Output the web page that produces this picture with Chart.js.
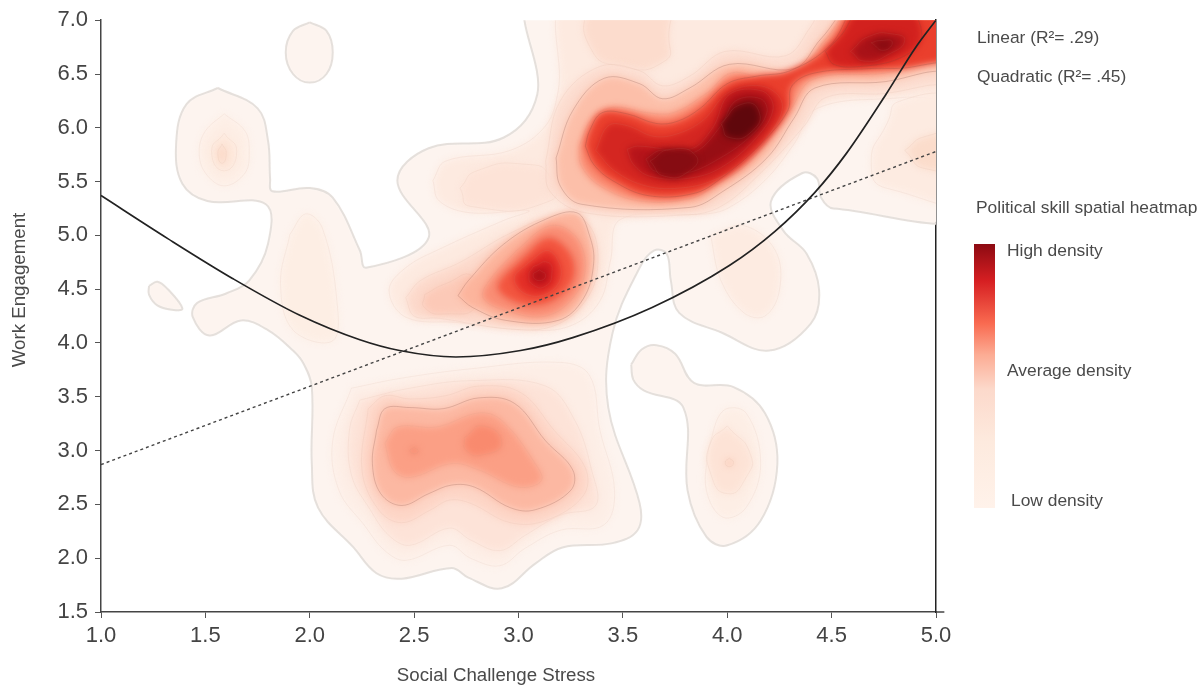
<!DOCTYPE html>
<html>
<head>
<meta charset="utf-8">
<title>Political skill spatial heatmap</title>
<script src="https://cdn.jsdelivr.net/npm/chart.js@4"></script>
<style>
  html, body { margin: 0; background: #fff; }
  canvas { display: block; }
</style>
</head>
<body>
<canvas id="densityChart" width="1204" height="686"></canvas>
<script>
// axis ticks
const xTicks = [1.0, 1.5, 2.0, 2.5, 3.0, 3.5, 4.0, 4.5, 5.0];
const yTicks = [1.5, 2.0, 2.5, 3.0, 3.5, 4.0, 4.5, 5.0, 5.5, 6.0, 6.5, 7.0];

// fit lines
const linearX = [1.0, 5.0];
const linearY = [2.87, 5.78];
const quadraticX = [1.0, 1.32, 1.63, 1.95, 2.24, 2.43, 2.70, 3.01, 3.26, 3.64, 4.01, 4.23, 4.42, 4.57, 4.76, 4.90, 5.0];
const quadraticY = [5.37, 4.97, 4.60, 4.26, 4.03, 3.93, 3.87, 3.93, 4.05, 4.33, 4.72, 5.04, 5.40, 5.76, 6.31, 6.74, 7.0];
const axisStubX = [5.0, 5.04];
const axisStubY = [1.5, 1.5];

// density contours as [x, y] in axis units
const outerMain = [[1.56,6.37],[1.75,6.18],[1.80,5.88],[1.81,5.53],[1.82,5.41],[2.00,5.44],[2.11,5.35],[2.24,4.86],[2.27,4.70],[2.57,4.98],[2.42,5.51],[2.57,5.81],[2.93,5.91],[3.09,6.31],[3.08,7.2],[5.2,7.2],[5.2,5.25],[4.51,5.25],[4.45,5.35],[4.43,5.53],[4.36,5.58],[4.21,5.32],[4.27,5.04],[4.38,4.83],[4.44,4.49],[4.40,4.18],[4.20,3.93],[3.97,4.10],[3.77,4.28],[3.73,4.58],[3.71,4.83],[3.65,4.86],[3.58,4.70],[3.45,4.09],[3.43,3.40],[3.58,2.51],[3.57,2.26],[3.45,2.14],[3.21,2.10],[3.08,1.95],[2.92,1.72],[2.76,1.82],[2.68,1.91],[2.44,1.81],[2.32,1.86],[2.21,2.10],[2.04,2.47],[2.01,2.88],[2.01,3.59],[1.97,3.81],[1.92,3.93],[1.80,4.12],[1.67,4.21],[1.52,4.07],[1.44,4.24],[1.46,4.37],[1.60,4.46],[1.71,4.58],[1.80,4.92],[1.79,5.29],[1.51,5.32],[1.39,5.48],[1.36,5.85],[1.41,6.22]];
const outerTopOval = [[2.0,6.98],[2.08,6.9],[2.11,6.7],[2.08,6.5],[2.0,6.42],[1.92,6.5],[1.885,6.7],[1.92,6.9]];
const outerLens = [[1.23,4.53],[1.27,4.57],[1.32,4.5],[1.39,4.32],[1.34,4.31],[1.27,4.35],[1.23,4.45]];
const outerLobe = [[3.54,3.80],[3.59,3.94],[3.66,3.98],[3.75,3.90],[3.84,3.63],[4.03,3.59],[4.18,3.35],[4.24,2.88],[4.16,2.35],[4.00,2.12],[3.90,2.20],[3.81,2.63],[3.79,3.40],[3.60,3.56],[3.55,3.66]];

const leftBlobRing = [[1.59,6.13],[1.69,5.97],[1.71,5.78],[1.69,5.58],[1.59,5.46],[1.50,5.58],[1.47,5.78],[1.50,5.97]];
const leftBlobInner = [[1.59,5.95],[1.65,5.78],[1.59,5.6],[1.53,5.78]];
const leftBlobPeak = [[1.58,5.85],[1.60,5.76],[1.58,5.67],[1.56,5.76]];
const pillar = [[1.905,5.01],[1.98,5.20],[2.06,5.07],[2.13,4.39],[2.11,4.02],[1.92,4.12],[1.86,4.55]];
const rightLobe = [[3.92,5.0],[4.08,5.09],[4.23,4.86],[4.25,4.49],[4.18,4.25],[4.08,4.28],[3.97,4.58]];
const lobeRing = [[3.91,3.03],[3.98,3.37],[4.09,3.35],[4.16,2.88],[4.09,2.47],[3.98,2.38],[3.90,2.63]];
const lobeInner = [[4.00,3.23],[4.11,2.97],[4.09,2.75],[4.00,2.60],[3.92,2.79],[3.92,3.07]];
const lobePeak = [[4.01,2.93],[4.03,2.89],[4.01,2.85],[3.99,2.89]];

const lowerRing1 = [[2.20,3.58],[2.43,3.67],[2.77,3.76],[3.20,3.82],[3.34,3.70],[3.39,3.19],[3.46,2.63],[3.41,2.31],[3.20,2.26],[3.03,2.09],[2.91,1.93],[2.77,2.0],[2.67,2.12],[2.46,1.98],[2.36,2.07],[2.26,2.31],[2.14,2.63],[2.11,3.09]];
const lowerRing2 = [[2.24,3.47],[2.48,3.58],[2.77,3.65],[3.13,3.60],[3.27,3.28],[3.35,2.82],[3.37,2.49],[3.20,2.40],[3.03,2.21],[2.91,2.07],[2.77,2.17],[2.67,2.28],[2.48,2.12],[2.38,2.21],[2.29,2.45],[2.20,2.77],[2.19,3.19]];
const lowerRing3 = [[2.28,3.39],[2.36,3.51],[2.48,3.48],[2.65,3.51],[2.81,3.60],[3.01,3.54],[3.17,3.19],[3.32,2.84],[3.31,2.58],[3.13,2.35],[2.96,2.33],[2.77,2.51],[2.67,2.54],[2.58,2.45],[2.44,2.33],[2.33,2.45],[2.25,2.82]];
const lowerRing4 = [[2.32,3.19],[2.36,3.39],[2.48,3.40],[2.64,3.39],[2.81,3.49],[2.98,3.44],[3.13,3.09],[3.26,2.82],[3.25,2.63],[3.08,2.45],[2.96,2.47],[2.79,2.66],[2.68,2.68],[2.57,2.60],[2.44,2.49],[2.34,2.60],[2.30,2.88]];
const lowerRing5 = [[2.36,3.07],[2.42,3.22],[2.61,3.22],[2.81,3.35],[2.92,3.28],[3.08,2.88],[3.11,2.72],[3.00,2.66],[2.81,2.82],[2.68,2.88],[2.48,2.75],[2.40,2.82]];
const lowerPeakA = [[2.74,3.12],[2.83,3.23],[2.92,3.07],[2.83,2.96],[2.75,3.0]];
const lowerPeakB = [[2.50,3.03],[2.52,3.0],[2.50,2.97],[2.48,3.0]];

const upperBand = [[2.59,5.51],[2.65,5.69],[2.96,5.79],[3.13,6.02],[3.19,6.34],[3.25,7.2],[5.2,7.2],[5.2,6.34],[4.83,6.28],[4.43,6.18],[4.32,5.85],[4.18,5.51],[4.01,5.26],[3.90,5.20],[3.49,5.15],[3.44,4.76],[3.39,4.39],[3.25,4.16],[3.04,4.12],[2.71,4.19],[2.46,4.24],[2.38,4.49],[2.46,4.70],[2.63,4.88],[2.93,5.14],[3.05,5.23],[2.77,5.21],[2.62,5.32]];
const upperLobe = [[2.72,5.44],[2.80,5.60],[3.04,5.66],[3.15,5.55],[3.15,5.32],[2.77,5.27]];
const topPatch = [[3.32,7.2],[3.34,6.76],[3.49,6.57],[3.70,6.62],[3.72,6.85],[3.70,7.2]];
const farRight = [[5.2,6.34],[4.83,6.25],[4.77,6.06],[4.69,5.65],[4.78,5.43],[5.2,5.41]];
const farRightInner = [[4.85,5.79],[4.95,5.92],[5.2,5.97],[5.2,5.65],[4.95,5.62]];
const ridgeHalo = [[3.13,5.69],[3.20,6.25],[3.39,6.57],[3.58,6.53],[3.69,6.39],[3.82,6.48],[3.99,6.71],[4.28,6.67],[4.40,6.94],[4.49,7.2],[5.2,7.2],[5.2,6.48],[4.95,6.39],[4.76,6.32],[4.47,6.28],[4.37,6.02],[4.16,5.58],[3.97,5.27],[3.80,5.19],[3.32,5.21],[3.15,5.41]];
const ridge1 = [[3.18,5.72],[3.26,6.16],[3.41,6.46],[3.58,6.41],[3.69,6.27],[3.82,6.37],[4.01,6.59],[4.32,6.55],[4.45,6.83],[4.64,7.2],[5.2,7.2],[5.2,6.62],[4.94,6.51],[4.76,6.43],[4.42,6.37],[4.32,6.09],[4.19,5.72],[3.98,5.41],[3.82,5.26],[3.30,5.29],[3.20,5.46]];
const ridge2 = [[3.29,5.83],[3.35,6.08],[3.45,6.19],[3.62,6.14],[3.74,6.14],[3.90,6.32],[4.02,6.51],[4.20,6.46],[4.36,6.57],[4.47,6.82],[4.65,7.2],[5.2,7.2],[5.2,6.71],[4.95,6.62],[4.76,6.51],[4.41,6.45],[4.30,6.16],[4.11,5.69],[3.94,5.46],[3.82,5.34],[3.58,5.32],[3.39,5.46],[3.30,5.65]];
const ridge3 = [[3.32,5.83],[3.34,5.97],[3.40,6.14],[3.52,6.13],[3.66,6.04],[3.76,6.06],[3.87,6.18],[4.00,6.41],[4.14,6.48],[4.30,6.53],[4.49,6.76],[4.66,7.2],[5.2,7.2],[5.2,6.76],[4.90,6.57],[4.68,6.55],[4.42,6.51],[4.31,6.39],[4.29,6.16],[4.16,5.85],[3.97,5.53],[3.84,5.39],[3.62,5.37],[3.45,5.51],[3.36,5.66]];
const ridge4 = [[3.37,5.79],[3.43,6.02],[3.52,6.02],[3.65,5.92],[3.77,5.95],[3.89,6.08],[4.00,6.32],[4.16,6.39],[4.26,6.25],[4.23,6.02],[4.08,5.69],[3.93,5.51],[3.77,5.44],[3.61,5.46],[3.46,5.60]];
const ridge5 = [[3.52,5.80],[3.57,5.83],[3.82,5.80],[3.93,6.0],[4.01,6.31],[4.17,6.34],[4.22,6.18],[4.14,5.91],[3.97,5.63],[3.81,5.53],[3.63,5.55],[3.55,5.66]];
const ridge6 = [[3.61,5.71],[3.68,5.79],[3.84,5.77],[3.97,6.02],[4.04,6.25],[4.16,6.27],[4.19,6.14],[4.11,5.92],[3.94,5.69],[3.80,5.58],[3.65,5.60]];
const ridgePeakA = [[3.97,6.04],[4.07,6.22],[4.15,6.16],[4.12,5.97],[4.01,5.91]];
const ridgePeakB = [[3.63,5.69],[3.73,5.80],[3.85,5.74],[3.82,5.60],[3.70,5.55]];
const cornerPeak1 = [[4.47,6.71],[4.55,6.87],[4.64,7.1],[4.87,7.1],[4.93,6.83],[4.83,6.65],[4.64,6.57],[4.51,6.59]];
const cornerPeak2 = [[4.59,6.71],[4.68,6.85],[4.80,6.87],[4.85,6.81],[4.78,6.69],[4.66,6.62]];
const cornerPeak3 = [[4.69,6.79],[4.73,6.81],[4.79,6.8],[4.75,6.72]];

const midTail = [[2.46,4.42],[2.53,4.58],[2.72,4.75],[2.96,5.02],[3.20,5.19],[3.34,5.09],[3.38,4.72],[3.32,4.39],[3.17,4.16],[2.96,4.13],[2.62,4.23],[2.50,4.25]];
const midTailInner = [[2.55,4.45],[2.65,4.55],[2.78,4.62],[2.80,4.35],[2.65,4.27],[2.55,4.33]];
const midPeak1 = [[2.71,4.44],[2.76,4.58],[2.93,4.92],[3.13,5.15],[3.28,5.21],[3.34,5.0],[3.36,4.74],[3.31,4.41],[3.19,4.21],[2.94,4.21],[2.78,4.33]];
const midPeak2 = [[2.99,4.86],[3.15,5.09],[3.27,5.0],[3.32,4.72],[3.27,4.44],[3.13,4.25],[2.94,4.30],[2.83,4.42],[2.86,4.58]];
const midPeak3 = [[3.01,4.78],[3.14,4.98],[3.24,4.86],[3.27,4.65],[3.22,4.47],[3.10,4.35],[2.97,4.39],[2.90,4.53]];
const midPeak4 = [[3.05,4.75],[3.14,4.86],[3.20,4.72],[3.19,4.55],[3.11,4.44],[3.02,4.47],[2.98,4.61]];
const midPeak5 = [[3.07,4.71],[3.14,4.75],[3.16,4.65],[3.13,4.53],[3.07,4.54],[3.05,4.63]];
const midPeak6 = [[3.10,4.68],[3.13,4.63],[3.10,4.58],[3.07,4.63]];

// paint order, palest first: [contour, fill colour, line colour]
const soft = 'rgba(228,222,218,0.95)';
const faint = 'rgba(200,150,130,0.1)';
const ruled = 'rgba(120,70,60,0.22)';
const layers = [
  [outerMain, '#fdf4ef', soft], [outerTopOval, '#fdf4ef', soft], [outerLens, '#fdf4ef', soft], [outerLobe, '#fdf4ef', soft],
  [leftBlobRing, '#fdeee5', faint], [leftBlobInner, '#fde7da', faint], [leftBlobPeak, '#fbd8c6', faint],
  [pillar, '#fdeee4', faint], [rightLobe, '#fdebe1', faint],
  [lobeRing, '#fdeee5', faint], [lobeInner, '#fde3d6', faint], [lobePeak, '#fbcdb9', faint],
  [lowerRing1, '#fdeee6', faint], [lowerRing2, '#fde3d8', faint], [lowerRing3, '#fdd5c6', faint],
  [lowerRing4, '#fcb8a2', ruled], [lowerRing5, '#fb9f85', faint], [lowerPeakA, '#f98a6e', faint], [lowerPeakB, '#f58468', faint],
  [upperBand, '#fdeae0', faint], [upperLobe, '#fde3d7', faint], [topPatch, '#fcdccd', faint],
  [farRight, '#fdebe1', faint], [farRightInner, '#fbdccb', faint],
  [ridgeHalo, '#fcdccf', faint], [ridge1, '#fcbfa9', ruled], [ridge2, '#fa8a70', faint], [ridge3, '#ea3f2d', ruled],
  [ridge4, '#d42621', faint], [ridge5, '#b5141a', faint], [ridge6, '#960e14', faint],
  [ridgePeakA, '#5f070c', faint], [ridgePeakB, '#860c12', faint],
  [cornerPeak1, '#d2211e', ruled], [cornerPeak2, '#a81218', faint], [cornerPeak3, '#850b10', faint],
  [midTail, '#fcd9cb', faint], [midTailInner, '#fcc9b7', faint],
  [midPeak1, '#fcb49c', ruled], [midPeak2, '#f98d74', faint], [midPeak3, '#f2553f', faint],
  [midPeak4, '#e32f27', faint], [midPeak5, '#c8181e', faint], [midPeak6, '#a50f15', faint]
];

const densityStops = [
  [0, '#8c0a12'], [0.14, '#d61f22'], [0.3, '#f96a50'], [0.42, '#fcac94'],
  [0.55, '#fcd9cb'], [0.75, '#fdeade'], [1, '#fff2ea']
];
const notes = [
  ['Linear (R²= .29)', 977, 38],
  ['Quadratic (R²= .45)', 977, 77],
  ['Political skill spatial heatmap', 976, 208],
  ['High density', 1007, 251],
  ['Average density', 1007, 371],
  ['Low density', 1011, 501]
];

const zipXY = (xs, ys) => xs.map((x, i) => ({ x, y: ys[i] }));
const sans = '"Liberation Sans", Arial, sans-serif';

const contourSets = layers.map(([shape, fillColor, lineColor], i) => ({
  data: shape.concat([shape[0]]).map(([x, y]) => ({ x, y })),
  showLine: true,
  fill: 'shape',
  backgroundColor: fillColor,
  borderColor: lineColor,
  borderWidth: lineColor === soft ? 2 : 1,
  tension: shape.length <= 6 ? 0.6 : 0.38,
  pointRadius: 0,
  blur: lineColor === soft ? 1 : 3.6,
  order: layers.length - i + 5
}));

// the filler paints before this plugin's hook, so only the fills get blurred
const softenContours = {
  id: 'softenContours',
  beforeDatasetsDraw(chart) { chart.ctx.filter = 'blur(1px)'; },
  beforeDatasetDraw(chart) { chart.ctx.filter = 'none'; },
  afterDatasetDraw(chart, args) {
    const next = chart.data.datasets[args.index + 1];
    chart.ctx.filter = next && next.blur ? `blur(${next.blur}px)` : 'none';
  },
  afterDatasetsDraw(chart) { chart.ctx.filter = 'none'; }
};

const sideNotes = {
  id: 'sideNotes',
  afterDraw(chart) {
    const c = chart.ctx;
    c.save();
    c.fillStyle = '#4a4a4a';
    c.textBaseline = 'middle';
    c.font = `17.4px ${sans}`;
    notes.forEach(([text, x, y]) => c.fillText(text, x, y));

    const bar = c.createLinearGradient(0, 244, 0, 508);
    densityStops.forEach(([at, colour]) => bar.addColorStop(at, colour));
    c.fillStyle = bar;
    c.fillRect(974, 244, 21, 264);

    c.fillStyle = '#4a4a4a';
    c.font = `18.7px ${sans}`;
    c.textAlign = 'center';
    c.fillText('Social Challenge Stress', 496, 676);
    c.translate(20, 290);
    c.rotate(-Math.PI / 2);
    c.fillText('Work Engagement', 0, 0);
    c.restore();
  }
};

new Chart(document.getElementById('densityChart'), {
  type: 'scatter',
  data: {
    datasets: [
      {
        data: zipXY(axisStubX, axisStubY),
        showLine: true, clip: false,
        borderColor: '#444', borderWidth: 1.5, pointRadius: 0, order: 0
      },
      {
        data: zipXY(quadraticX, quadraticY),
        showLine: true,
        cubicInterpolationMode: 'monotone',
        borderColor: '#222', borderWidth: 1.7, pointRadius: 0, order: 1
      },
      {
        data: zipXY(linearX, linearY),
        showLine: true,
        borderColor: '#444', borderWidth: 1.4, borderDash: [3, 3], pointRadius: 0, order: 2
      }
    ].concat(contourSets)
  },
  options: {
    responsive: false,
    animation: false,
    events: [],
    layout: { padding: { top: 19, right: 268, left: 0, bottom: 0 } },
    plugins: { legend: { display: false }, tooltip: { enabled: false } },
    scales: {
      x: {
        type: 'linear',
        min: 1, max: 5,
        z: 1,
        afterFit: s => { s.height = 74; },
        afterBuildTicks: s => { s.ticks = xTicks.map(value => ({ value })); },
        grid: { drawOnChartArea: false, tickLength: 6, color: '#555' },
        border: { color: '#444', width: 1.5 },
        ticks: {
          color: '#444',
          maxRotation: 0,
          padding: 5,
          font: { family: sans, size: 22 },
          callback: v => v.toFixed(1)
        }
      },
      y: {
        type: 'linear',
        min: 1.5, max: 7,
        z: 1,
        afterFit: s => { s.width = 101; },
        afterBuildTicks: s => { s.ticks = yTicks.map(value => ({ value })); },
        grid: { drawOnChartArea: false, tickLength: 6, color: '#555' },
        border: { color: '#444', width: 1.5 },
        ticks: {
          color: '#444',
          padding: 7,
          font: { family: sans, size: 22 },
          callback: v => v.toFixed(1)
        }
      },
      yRight: {
        type: 'linear',
        position: 'right',
        min: 1.5, max: 7,
        z: 1,
        afterFit: s => { s.width = 0; },
        grid: { drawOnChartArea: false, drawTicks: false },
        border: { color: '#222', width: 1.5 },
        ticks: { display: false }
      }
    }
  },
  plugins: [softenContours, sideNotes]
});
</script>
</body>
</html>
